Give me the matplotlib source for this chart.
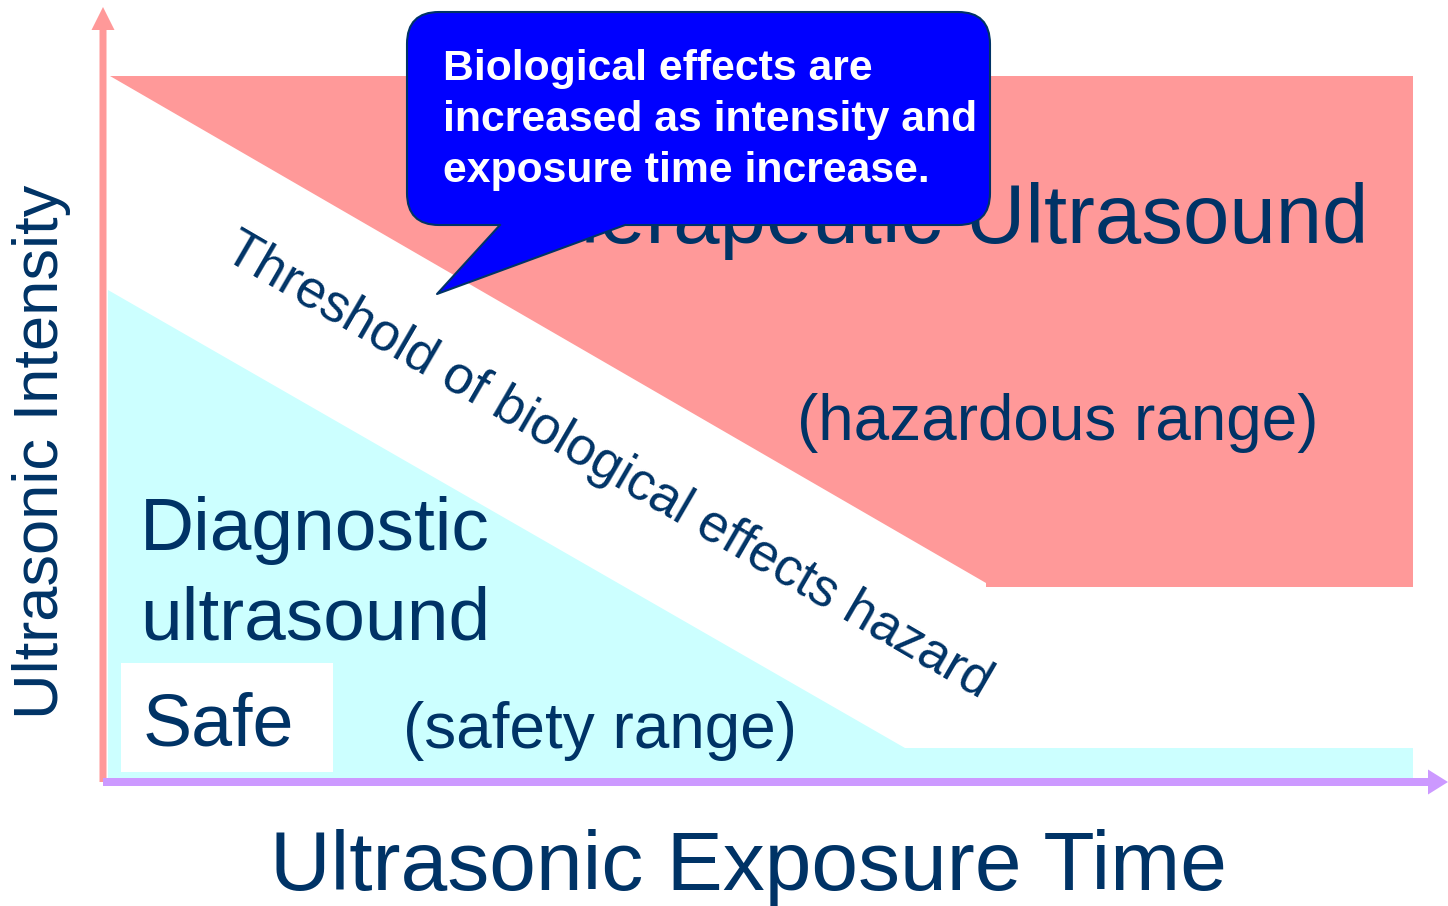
import matplotlib
matplotlib.use("Agg")
import matplotlib.pyplot as plt
from matplotlib.patches import FancyBboxPatch, FancyArrow, Rectangle

plt.rcParams['font.family'] = ['Liberation Sans', 'DejaVu Sans']

# region outlines, in pixels measured from the axis origin (time right, intensity up)
hazard_time = [7, 1310, 1310, 883, 883]
hazard_intensity = [706, 706, 195, 195, 199]
safe_time = [5, 802, 1310, 1310, 5]
safe_intensity = [492, 34, 34, 0, 0]

callout_lines = ["Biological effects are",
                 "increased as intensity and",
                 "exposure time increase."]
callout_tail_time = [397, 334, 522]
callout_tail_intensity = [557, 488, 557]

NAVY = '#003366'
PINK = '#FF9999'
CYAN = '#CCFFFF'
PURPLE = '#CC99FF'

fig = plt.figure(figsize=(14.48, 9.06), dpi=100)
ax = fig.add_axes([0, 0, 1, 1])
ax.set_xlim(-103, 1345)
ax.set_ylim(-124, 782)
ax.axis('off')

ax.fill(hazard_time, hazard_intensity, color=PINK, lw=0, zorder=1)
ax.fill(safe_time, safe_intensity, color=CYAN, lw=0, zorder=1)

# white box behind "Safe"
ax.add_patch(Rectangle((18, 10), 212, 109, color='white', lw=0, zorder=2))

# axes arrows
ax.add_patch(FancyArrow(0, 0, 0, 775, width=7, head_width=23, head_length=23,
                        length_includes_head=True, color=PINK, lw=0, zorder=3))
ax.add_patch(FancyArrow(0, 0, 1345, 0, width=8, head_width=25, head_length=20,
                        length_includes_head=True, color=PURPLE, lw=0, zorder=4))

# region labels
ax.text(1265, 539, "Therapeutic Ultrasound", fontsize=60, color=NAVY,
        ha='right', va='baseline', zorder=3)
ax.text(694, 342, "(hazardous range)", fontsize=46, color=NAVY,
        ha='left', va='baseline', zorder=3)
ax.text(37, 232, "Diagnostic", fontsize=54, color=NAVY, ha='left', va='baseline', zorder=3)
ax.text(37, 142, "ultrasound", fontsize=54, color=NAVY, ha='left', va='baseline', zorder=3)
ax.text(40, 37, "Safe", fontsize=53, color=NAVY, ha='left', va='baseline', zorder=3)
ax.text(300, 34, "(safety range)", fontsize=46, color=NAVY,
        ha='left', va='baseline', zorder=3)
ax.text(505, 316, "Threshold of biological effects hazard", fontsize=38.2, color=NAVY,
        rotation=-30.2, rotation_mode='anchor', ha='center', va='center', zorder=3)

ax.text(-61, 330, "Ultrasonic Intensity", fontsize=45.5, color=NAVY,
        rotation=90, ha='center', va='center')
ax.text(645, -108, "Ultrasonic Exposure Time", fontsize=60.5, color=NAVY,
        ha='center', va='baseline')

# speech bubble
ax.add_patch(FancyBboxPatch((304, 557), 583, 213,
                            boxstyle='round,pad=0,rounding_size=32',
                            facecolor='#0000FF', edgecolor=NAVY, lw=1.5, zorder=5))
ax.fill([callout_tail_time[0], callout_tail_time[1], callout_tail_time[2],
         callout_tail_time[2], callout_tail_time[0]],
        [callout_tail_intensity[0], callout_tail_intensity[1], callout_tail_intensity[2],
         562, 562], color='#0000FF', lw=0, zorder=6)
ax.plot(callout_tail_time, callout_tail_intensity, color=NAVY, lw=1.5, zorder=6)

for i, line in enumerate(callout_lines):
    ax.text(340, 702 - 51 * i, line, fontsize=30.8, fontweight='bold', color='white',
            ha='left', va='baseline', zorder=7)

fig.savefig("out.png", dpi=100)
